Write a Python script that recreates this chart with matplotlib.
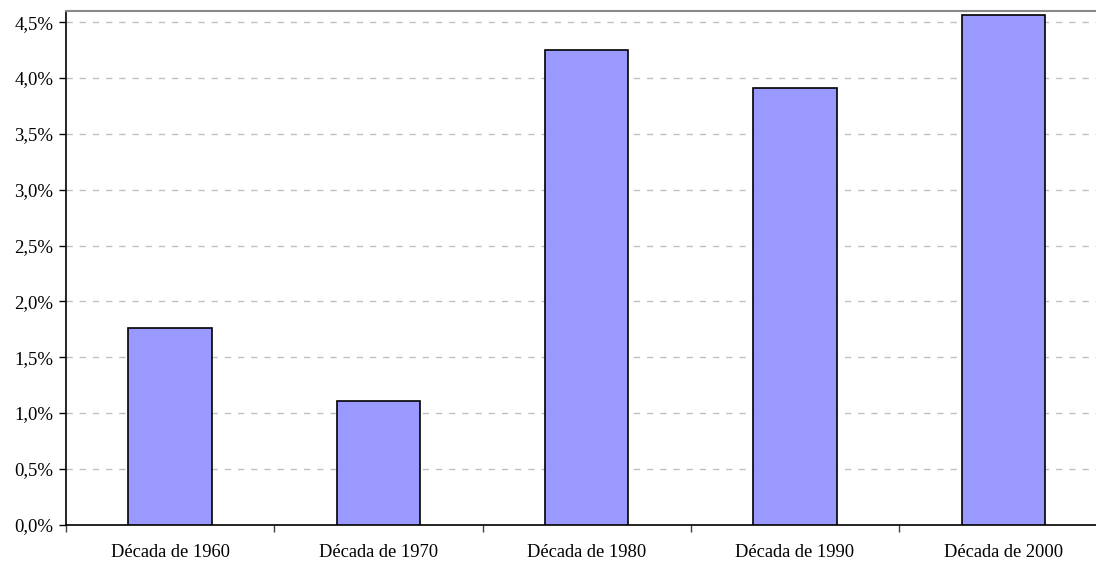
import numpy as np
import matplotlib.pyplot as plt
from matplotlib.ticker import FuncFormatter, FixedLocator

decadas = ['Década de 1960', 'Década de 1970', 'Década de 1980',
           'Década de 1990', 'Década de 2000']
taxa = [1.76, 1.11, 4.25, 3.91, 4.565]

plt.rcParams['font.family'] = ['Liberation Serif', 'DejaVu Serif']

fig = plt.figure(figsize=(10.96, 5.62), dpi=100)
# plot area runs a little past the right edge of the figure
ax = fig.add_axes([66 / 1096, 1 - 524.7 / 562, (1107.5 - 66) / 1096, (524.7 - 11) / 562])

x = np.arange(len(decadas))
ax.bar(x, taxa, width=0.4, color='#9999ff', edgecolor='black', linewidth=1.2, zorder=3)

ax.set_xlim(-0.5, len(decadas) - 0.5)
ax.set_ylim(0, 4.6)
ax.set_yticks(np.arange(0, 4.51, 0.5))
ax.yaxis.set_major_formatter(FuncFormatter(lambda v, p: f'{v:.1f}%'.replace('.', ',')))
ax.yaxis.grid(True, color='#c0c0c0', linestyle=(0, (4.5, 5)), linewidth=1, zorder=0)

# labels centred on bars, tick marks at the category boundaries
ax.xaxis.set_major_locator(FixedLocator(np.arange(-0.5, len(decadas), 1.0)))
ax.xaxis.set_major_formatter(FuncFormatter(lambda v, p: ''))
ax.xaxis.set_minor_locator(FixedLocator(x))
ax.set_xticklabels(decadas, minor=True)
ax.tick_params(axis='x', which='major', length=5, width=1, color='#404040')
ax.tick_params(axis='x', which='minor', length=0, pad=14, labelsize=13.3)
ax.tick_params(axis='y', length=5, width=1, labelsize=13.5, pad=4)

for side in ('left', 'bottom'):
    ax.spines[side].set_color('black')
    ax.spines[side].set_linewidth(1.2)
ax.spines['top'].set_color('#888888')
ax.spines['top'].set_linewidth(1.5)
ax.spines['right'].set_visible(False)

fig.savefig('out.png', dpi=100)
